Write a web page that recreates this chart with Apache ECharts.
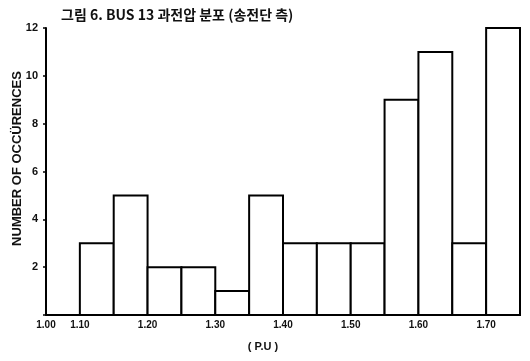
<!DOCTYPE html>
<html>
<head>
<meta charset="utf-8">
<script src="https://cdn.jsdelivr.net/npm/echarts@6/dist/echarts.min.js"></script>
<style>
  html, body { margin: 0; padding: 0; background: #fff; }
  #chart { width: 530px; height: 361px; }
</style>
</head>
<body>
<div id="chart"></div>
<script>
// bins of p.u. overvoltage, each 0.05 wide
const binStarts = [1.10, 1.15, 1.20, 1.25, 1.30, 1.35, 1.40, 1.45, 1.50, 1.55, 1.60, 1.65, 1.70]
const counts = [3, 5, 2, 2, 1, 5, 3, 3, 3, 9, 11, 3, 12]
const binWidth = 0.05
const xTickLabels = ['1.00', '1.10', '1.20', '1.30', '1.40', '1.50', '1.60', '1.70']
const yTicks = [2, 4, 6, 8, 10, 12]

let data = binStarts.map((s, i) => [s, s + binWidth, counts[i]])

let chart = echarts.init(document.getElementById('chart'))
let option = {
    animation: false,
    backgroundColor: '#fff',
    title: {
        text: '그림 6. BUS 13 과전압 분포 (송전단 측)',
        left: 56,
        top: 3,
        textStyle: {
            fontFamily: 'Noto Sans CJK KR',
            fontSize: 14,
            fontWeight: 'bold',
            color: '#111'
        }
    },
    grid: {
        left: 46,
        right: 10,
        top: 28,
        bottom: 46,
        containLabel: false,
        outerBoundsMode: 'none'
    },
    xAxis: {
        type: 'value',
        min: 1.05,
        max: 1.75,
        interval: 0.05,
        splitLine: { show: false },
        axisTick: { show: false },
        axisLine: { lineStyle: { color: '#000', width: 2 } },
        axisLabel: {
            margin: 5,
            color: '#111',
            fontFamily: 'Liberation Sans',
            fontWeight: 'bold',
            fontSize: 10,
            // the axis is broken between 1.00 and 1.10, the origin stands for 1.00
            formatter: (v) => {
                let idx = Math.round((v - 1.0) * 10 * 1000) / 1000
                if (Math.abs(v - 1.05) < 1e-6) return xTickLabels[0]
                if (Math.abs(idx - Math.round(idx)) < 1e-6 && idx >= 1 && idx < xTickLabels.length) return xTickLabels[Math.round(idx)]
                return ''
            }
        },
        name: '( P.U )',
        nameLocation: 'middle',
        nameGap: 26,
        nameMoveOverlap: false,
        nameTextStyle: {
            color: '#111',
            fontFamily: 'Liberation Sans',
            fontWeight: 'bold',
            fontSize: 11,
            padding: [0, 40, 0, 0]
        }
    },
    yAxis: {
        type: 'value',
        min: 0,
        max: 12,
        interval: 2,
        splitLine: { show: false },
        axisLine: { show: true, lineStyle: { color: '#000', width: 2 } },
        axisTick: { show: true, length: 3, lineStyle: { color: '#000', width: 1.5 } },
        axisLabel: {
            margin: 8,
            color: '#111',
            fontFamily: 'Liberation Sans',
            fontWeight: 'bold',
            fontSize: 11,
            formatter: (v) => yTicks.indexOf(v) >= 0 ? String(v) : ''
        },
        name: 'NUMBER OF OCCÜRENCES',
        nameLocation: 'middle',
        nameGap: 22,
        nameMoveOverlap: false,
        nameTextStyle: {
            color: '#111',
            fontFamily: 'Liberation Sans',
            fontWeight: 'bold',
            fontSize: 13,
            padding: [0, 0, 0, 26]
        }
    },
    series: [
        {
            type: 'custom',
            data: data,
            renderItem: (params, api) => {
                let p0 = api.coord([api.value(0), 0])
                let p1 = api.coord([api.value(1), api.value(2)])
                return {
                    type: 'rect',
                    shape: {
                        x: p0[0],
                        y: p1[1],
                        width: p1[0] - p0[0],
                        height: p0[1] - p1[1]
                    },
                    style: {
                        fill: '#fff',
                        stroke: '#000',
                        lineWidth: 2
                    }
                }
            }
        }
    ]
}
chart.setOption(option)
</script>
</body>
</html>
